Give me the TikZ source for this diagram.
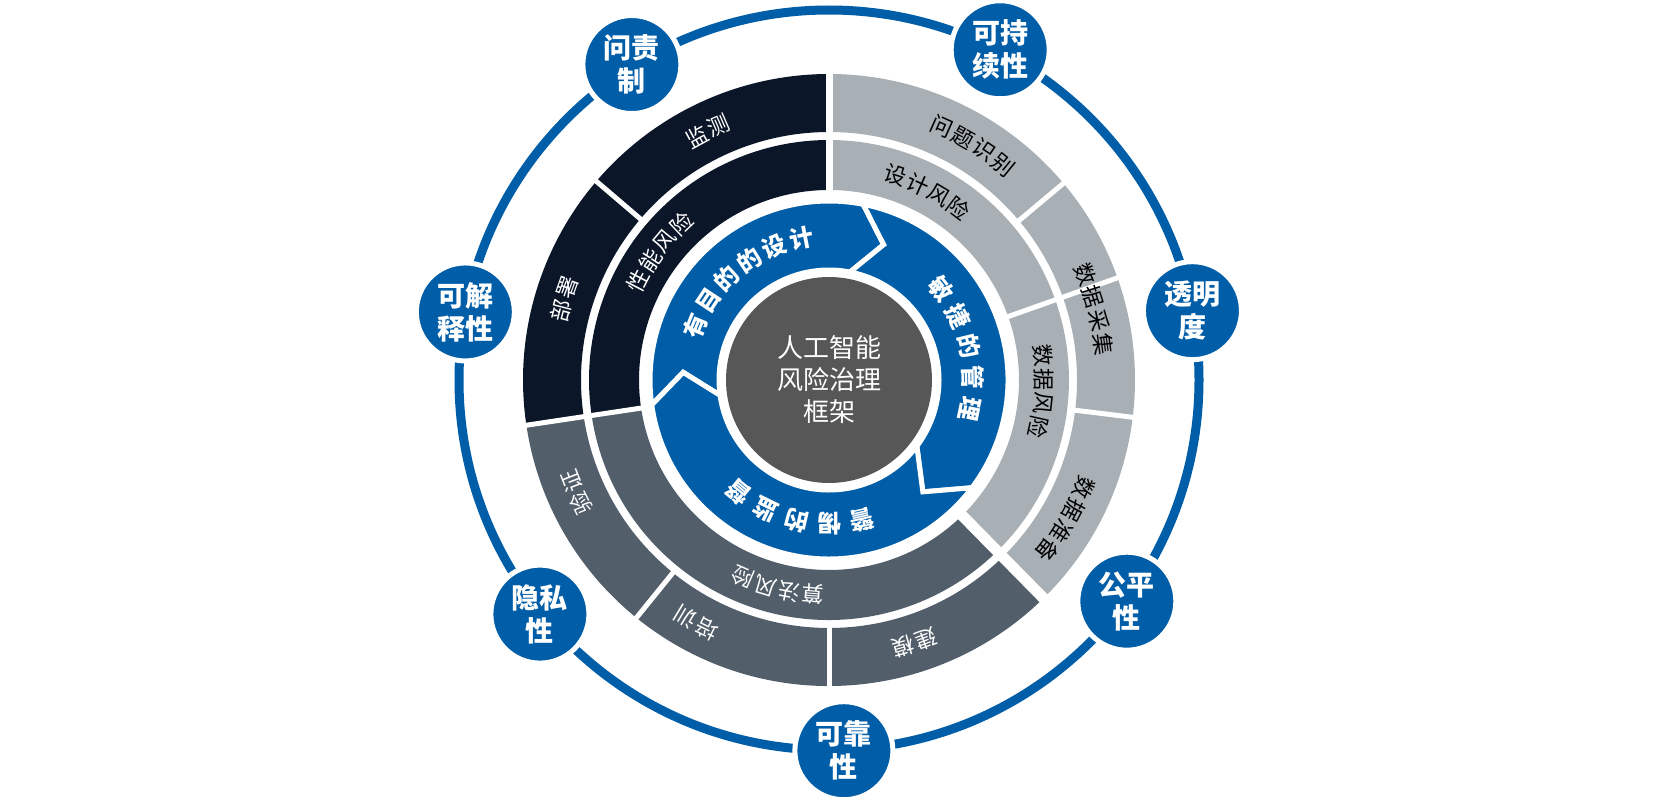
\documentclass[tikz,border=0pt]{standalone}
\usepackage{fontspec}
\setmainfont{Noto Sans CJK SC}
\definecolor{navy}{HTML}{0B1628}
\definecolor{lgray}{HTML}{A8AFB5}
\definecolor{slate}{HTML}{525E6A}
\definecolor{iblue}{HTML}{005DA8}
\definecolor{cgray}{HTML}{575757}
\tikzset{
  ch/.style={inner sep=0pt,font=\fontsize{11}{13}\selectfont},
  bch/.style={inner sep=0pt,text=white,font=\fontsize{12}{14}\selectfont\bfseries},
  val/.style={circle,fill=iblue,draw=white,line width=2.5pt,minimum size=49pt,inner sep=0pt,text=white,align=center,font=\fontsize{14}{16.5}\selectfont\bfseries},
  gap/.style={white,line width=#1},
}
\newcommand{\sect}[5]{\fill[#1] (#2:#4) arc[start angle=#2,end angle=#3,radius=#4] -- (#3:#5) arc[start angle=#3,end angle=#2,radius=#5] -- cycle;}
\newcommand{\arctext}[6]{\foreach \c [count=\i] in {#5} {\node[#4,rotate={#2-(\i-1)*#3-90}] (#6\i) at ({#2-(\i-1)*#3}:#1) {\c};}}
\newcommand{\bseg}[4]{% start, end, notch delta, tip delta
 \fill[iblue,draw=white,line width=2.5pt,line join=miter] (#1:179) arc[start angle=#1,end angle=#2,radius=179] -- ({#2-#4}:146) -- (#2:110) arc[start angle=#2,end angle=#1,radius=110] -- ({#1-#3}:146) -- cycle;}
\begin{document}
\begin{tikzpicture}[x=0.5pt,y=0.5pt]
\useasboundingbox (0,0) rectangle (1655,800);
\begin{scope}[shift={(829,420)}]
% thin outer ring
\draw[iblue,line width=4.5pt] (0,0) circle[radius=370];
% outer ring sectors
\sect{navy}{90}{188.5}{248}{306}
\sect{lgray}{90}{-45.5}{248}{306}
\sect{slate}{-45.5}{-171.5}{248}{306}
% middle ring sectors
\sect{navy}{90}{188.5}{190}{240}
\sect{lgray}{90}{-45.5}{190}{240}
\sect{slate}{-45.5}{-171.5}{190}{240}
% dividers
\foreach \a in {139.5,40,-7,-90,-129} \draw[gap=2.5pt] (\a:245) -- (\a:310);
\foreach \a in {188.5,19.5} \draw[gap=2.5pt] (\a:186) -- (\a:310);
\draw[gap=3.5pt] (90:186) -- (90:310);
\draw[gap=5.5pt] (-45.5:186) -- (-45.5:310);
% blue segments
\bseg{188}{79}{11}{11}
\bseg{79}{-37}{11}{13}
\bseg{-37}{-172}{13}{11}
% center
\node[circle,fill=cgray,minimum size=103pt,inner sep=0pt,text=white,align=center,font=\fontsize{13}{16}\selectfont] (core) at (0,0) {人工智能\\风险治理\\框架};
% outer labels
\arctext{277}{118.5}{5}{ch,text=white}{监,测}{jc}
\arctext{277}{165.5}{5}{ch,text=white}{部,署}{bs}
\arctext{277}{66}{5}{ch,text=black}{问,题,识,别}{wt}
\arctext{277}{22.5}{5}{ch,text=black}{数,据,采,集}{sc}
\arctext{277}{-23}{5}{ch,text=black}{数,据,准,备}{zb}
\arctext{277}{-69.5}{5}{ch,text=white}{建,模}{jm}
\arctext{277}{-116.1}{5}{ch,text=white}{培,训}{px}
\arctext{277}{-153.5}{5}{ch,text=white}{验,证}{yz}
% middle labels
\arctext{215}{152.6}{6.4}{ch,text=white}{性,能,风,险}{xn}
\arctext{215}{72.1}{6.4}{ch,text=black}{设,计,风,险}{sj}
\arctext{215}{6.6}{6.4}{ch,text=black}{数,据,风,险}{sf}
\arctext{215}{-94.4}{6.4}{ch,text=white}{算,法,风,险}{sff}
% blue labels
\arctext{144}{158}{11.4}{bch}{有,目,的,的,设,计}{ym}
\arctext{144}{39}{12.7}{bch}{敏,捷,的,管,理}{mj}
\arctext{144}{-77}{13}{bch}{警,惕,的,监,督}{jt}
% value circles
\node[val] (v1) at (122:372) {问责\\制};
\node[val] (v2) at (62.6:372) {可持\\续性};
\node[val] (v3) at (10.8:370) {透明\\度};
\node[val] (v4) at (-36.6:371) {公平\\性};
\node[val] (v5) at (-87.7:371) {可靠\\性};
\node[val] (v6) at (-141:372) {隐私\\性};
\node[val] (v7) at (169.4:370) {可解\\释性};
\end{scope}
\end{tikzpicture}
\end{document}
